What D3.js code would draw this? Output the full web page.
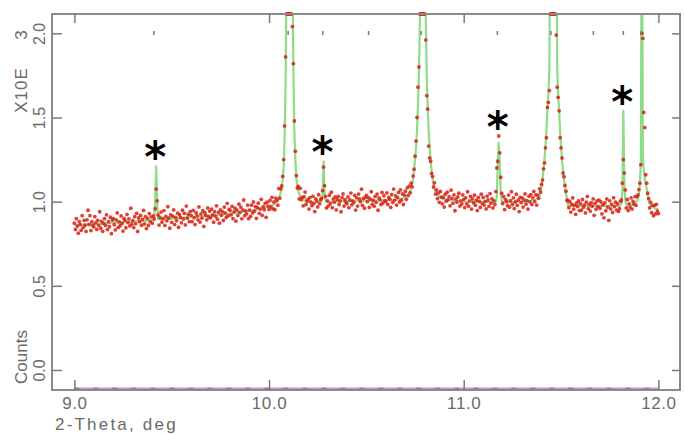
<!DOCTYPE html>
<html><head><meta charset="utf-8">
<script src="https://cdn.jsdelivr.net/npm/d3@7"></script>
<style>
html,body{margin:0;padding:0;background:#fff;}
svg{display:block;}
</style></head><body>
<svg id="chart" width="684" height="434"></svg>
<script>
// Powder scan: regular 2-theta grid, observed counts at each step
const scanStart = 9.0, scanStep = 0.005;
const observedCounts = [
  872, 835, 899, 855, 813, 881, 864, 830, 917, 846, 889, 860, 823, 892, 949, 865, 917, 828, 881, 859,
  850, 911, 874, 835, 889, 859, 940, 842, 882, 824, 871, 899, 859, 922, 834, 881, 851, 908, 810, 891,
  899, 863, 832, 891, 933, 847, 880, 857, 915, 871, 825, 901, 889, 845, 925, 876, 898, 856, 961, 866,
  887, 846, 911, 869, 931, 823, 903, 881, 918, 860, 895, 948, 868, 911, 840, 901, 859, 929, 881, 910,
  872, 916, 897, 958, 1075, 1005, 921, 861, 906, 938, 878, 899, 947, 859, 912, 886, 970, 903, 842, 921,
  877, 914, 951, 864, 907, 887, 932, 848, 923, 906, 874, 949, 897, 931, 862, 974, 902, 924, 881, 941,
  919, 881, 948, 904, 864, 934, 917, 892, 969, 879, 927, 902, 946, 853, 934, 918, 892, 963, 909, 944,
  904, 956, 921, 878, 940, 913, 975, 896, 936, 872, 951, 919, 940, 888, 968, 933, 906, 990, 916, 954,
  948, 921, 972, 899, 939, 961, 884, 950, 918, 985, 936, 968, 898, 951, 1010, 917, 945, 928, 980, 899,
  950, 912, 979, 933, 998, 943, 970, 901, 965, 991, 931, 956, 1014, 919, 970, 952, 990, 907, 997, 973,
  954, 1007, 969, 1026, 957, 998, 952, 1021, 1007, 979, 1078, 1021, 1076, 1093, 1150, 1250, 1450, 1860, 2300, 3700,
  5600, 6900, 5700, 3820, 2040, 1820, 1480, 1300, 1155, 1081, 1090, 1016, 1079, 1012, 1025, 975, 1028, 1057, 983, 1004,
  1014, 956, 1024, 998, 976, 1032, 988, 941, 1017, 1004, 969, 1041, 987, 1012, 1021, 1065, 1205, 1095, 1030, 963,
  1005, 975, 1038, 988, 1056, 964, 1016, 997, 1028, 951, 1013, 1031, 983, 1005, 940, 1024, 1046, 974, 1012, 996,
  987, 1028, 964, 1010, 1051, 981, 1005, 994, 1037, 950, 1023, 974, 1045, 1016, 1000, 1074, 978, 1019, 961, 1026,
  1037, 1000, 1024, 966, 1015, 1059, 984, 1007, 973, 1031, 996, 1045, 949, 1022, 1012, 983, 1055, 992, 1035, 1005,
  1001, 1052, 983, 1025, 1014, 966, 1041, 996, 1075, 1008, 1034, 980, 1025, 1055, 998, 1070, 1009, 1046, 983, 1039,
  1062, 1014, 1082, 1036, 1092, 1053, 1110, 1088, 1152, 1193, 1270, 1360, 1500, 1680, 1800, 2150, 2900, 4500, 5900, 4700,
  2960, 1960, 1630, 1550, 1330, 1260, 1240, 1168, 1149, 1087, 1112, 1045, 1070, 1018, 1052, 996, 1061, 1027, 987, 1025,
  968, 1044, 1003, 1056, 1011, 1030, 975, 1068, 1019, 990, 1040, 946, 1016, 997, 1028, 1050, 974, 1005, 986, 1040,
  1014, 965, 1023, 987, 1059, 973, 1005, 1031, 956, 1016, 993, 1038, 979, 1008, 947, 1025, 1002, 966, 1044, 988,
  1025, 980, 1002, 957, 1033, 1010, 972, 1048, 990, 1017, 963, 1005, 983, 1060, 1200, 1240, 1390, 1290, 1145, 1050,
  989, 1030, 953, 1014, 1001, 976, 1039, 967, 1006, 1059, 983, 1022, 959, 998, 1044, 978, 1009, 941, 1026, 994,
  1022, 968, 1010, 1046, 985, 1006, 956, 1032, 999, 1042, 983, 1023, 1061, 1000, 1040, 980, 1039, 1020, 1076, 1057,
  1102, 1128, 1195, 1230, 1320, 1380, 1560, 1590, 1660, 2900, 4400, 5900, 6800, 5800, 4300, 1990, 1680, 1620, 1540, 1380,
  1320, 1260, 1170, 1148, 1096, 1062, 1008, 1007, 964, 1000, 938, 983, 1022, 956, 979, 925, 993, 971, 1004, 947,
  988, 950, 1013, 967, 980, 933, 997, 1031, 959, 984, 944, 994, 973, 1016, 919, 990, 955, 1005, 970, 1009,
  961, 998, 927, 981, 904, 992, 946, 1016, 967, 889, 1005, 957, 984, 936, 1023, 971, 997, 950, 987, 942,
  958, 1003, 1010, 1110, 1250, 1170, 1070, 963, 1013, 947, 987, 966, 1022, 956, 1001, 985, 1030, 978, 1030, 1040,
  1072, 1110, 1220, 2000, 1970, 1530, 1440, 1160, 1110, 1050, 1018, 963, 997, 934, 978, 917, 978, 927, 984, 944,
  929
];

// Calculated profile (fit), listed at its own knots
const calcTheta = [
  9.00, 9.05, 9.10, 9.15, 9.20, 9.25, 9.30, 9.35, 9.40, 9.41, 9.415, 9.42, 9.425, 9.43, 9.45, 9.50, 9.55, 9.60, 9.65, 9.70,
  9.75, 9.80, 9.85, 9.90, 9.95, 10.00, 10.005, 10.01, 10.015, 10.02, 10.025, 10.03, 10.035, 10.04, 10.045, 10.05, 10.055, 10.06, 10.065, 10.07,
  10.075, 10.08, 10.085, 10.09, 10.095, 10.10, 10.105, 10.11, 10.115, 10.12, 10.125, 10.13, 10.135, 10.14, 10.145, 10.15, 10.155, 10.16, 10.165, 10.17,
  10.175, 10.18, 10.185, 10.19, 10.195, 10.20, 10.21, 10.22, 10.23, 10.24, 10.25, 10.26, 10.27, 10.275, 10.28, 10.285, 10.29, 10.295, 10.30, 10.35,
  10.40, 10.45, 10.50, 10.55, 10.60, 10.65, 10.66, 10.67, 10.68, 10.69, 10.70, 10.705, 10.71, 10.715, 10.72, 10.725, 10.73, 10.735, 10.74, 10.745,
  10.75, 10.755, 10.76, 10.765, 10.77, 10.775, 10.78, 10.785, 10.79, 10.795, 10.80, 10.805, 10.81, 10.815, 10.82, 10.825, 10.83, 10.835, 10.84, 10.845,
  10.85, 10.855, 10.86, 10.865, 10.87, 10.88, 10.89, 10.90, 10.92, 10.95, 11.00, 11.05, 11.10, 11.15, 11.165, 11.17, 11.175, 11.18, 11.185, 11.19,
  11.195, 11.20, 11.25, 11.30, 11.32, 11.34, 11.36, 11.37, 11.38, 11.385, 11.39, 11.395, 11.40, 11.405, 11.41, 11.415, 11.42, 11.425, 11.43, 11.435,
  11.44, 11.445, 11.45, 11.455, 11.46, 11.465, 11.47, 11.475, 11.48, 11.485, 11.49, 11.495, 11.50, 11.505, 11.51, 11.515, 11.52, 11.525, 11.53, 11.535,
  11.55, 11.60, 11.65, 11.70, 11.75, 11.80, 11.805, 11.81, 11.815, 11.82, 11.825, 11.83, 11.835, 11.84, 11.85, 11.86, 11.87, 11.88, 11.89, 11.895,
  11.90, 11.905, 11.91, 11.915, 11.92, 11.925, 11.93, 11.935, 11.94, 11.945, 11.95, 11.955, 11.96, 11.97, 11.98, 11.99, 12.00
];
const calcCounts = [
  860, 863, 867, 870, 874, 878, 882, 886, 890, 893, 1000, 1210, 1010, 896, 895, 899, 904, 908, 913, 918,
  923, 929, 938, 946, 957, 972, 974, 976, 979, 982, 986, 991, 995, 1002, 1009, 1020, 1035, 1055, 1084, 1129,
  1205, 1380, 1720, 2367, 3767, 5768, 6969, 5769, 3770, 2370, 1780, 1420, 1250, 1138, 1093, 1066, 1047, 1033, 1024, 1017,
  1012, 1009, 1005, 1003, 1000, 999, 997, 995, 995, 995, 996, 997, 1004, 1040, 1240, 1060, 1010, 1000, 999, 1000,
  1002, 1004, 1006, 1008, 1010, 1012, 1014, 1016, 1019, 1022, 1028, 1032, 1036, 1043, 1050, 1062, 1077, 1102, 1137, 1187,
  1252, 1322, 1422, 1572, 1762, 2082, 2902, 4602, 6002, 4602, 2901, 2081, 1761, 1571, 1421, 1321, 1251, 1185, 1135, 1100,
  1075, 1060, 1048, 1041, 1034, 1025, 1018, 1015, 1012, 1006, 1001, 999, 998, 998, 1000, 1030, 1240, 1350, 1220, 1060,
  1005, 998, 997, 1001, 1002, 1005, 1009, 1013, 1020, 1027, 1035, 1060, 1095, 1140, 1190, 1255, 1335, 1425, 1545, 1635,
  1795, 2995, 4495, 5995, 6995, 5990, 4490, 2990, 1790, 1630, 1540, 1420, 1330, 1250, 1185, 1135, 1090, 1050, 1020, 976,
  976, 976, 975, 975, 975, 975, 978, 990, 1070, 1540, 1100, 1010, 985, 978, 978, 980, 985, 992, 1003, 1018,
  1045, 1110, 1230, 3200, 1270, 1185, 1140, 1105, 1075, 1040, 1008, 990, 978, 970, 963, 958, 955
];

// Reflection positions (tick row under the top frame)
const reflectionTheta = [9.408, 10.098, 10.276, 10.511, 10.781, 11.173, 11.448, 11.666, 11.82, 11.911];
// Impurity peaks flagged with an asterisk: position and peak top
const impurityTheta = [9.42, 10.28, 11.18, 11.82];
const impurityTop = [1210, 1240, 1390, 1540];

const xTicks = [9, 10, 11, 12];
const yTicks = [0, 500, 1000, 1500, 2000];

const plot = {left: 52, right: 680, top: 14, bottom: 390};
const axisGrey = "#8a8a8a", textGrey = "#6a6a6a";
const font = "Liberation Sans, Arial, sans-serif";

const svg = d3.select("#chart");
const x = d3.scaleLinear().domain([8.885, 12.111]).range([plot.left, plot.right]);
const y = d3.scaleLinear().domain([-119, 2115]).range([plot.bottom, plot.top]);
const yClamp = y.copy().clamp(true);

svg.append("defs").append("clipPath").attr("id", "plotClip")
  .append("rect").attr("x", plot.left).attr("y", plot.top)
  .attr("width", plot.right - plot.left).attr("height", plot.bottom - plot.top);

// difference trace along the floor of the plot
const scanEnd = scanStart + (observedCounts.length - 1) * scanStep;
const floorY = y(y.domain()[0]) - 1.5;
svg.append("line").attr("x1", x(scanStart)).attr("x2", x(scanEnd))
  .attr("y1", floorY).attr("y2", floorY)
  .attr("stroke", "#d98ad9").attr("stroke-width", 2);
svg.append("line").attr("x1", x(scanStart)).attr("x2", x(scanEnd))
  .attr("y1", floorY).attr("y2", floorY)
  .attr("stroke", "#8a7a8a").attr("stroke-width", 1.5).attr("stroke-dasharray", "5,14");

// calculated profile
const calcData = calcTheta.map((t, i) => [t, calcCounts[i]]);
svg.append("path").datum(calcData)
  .attr("clip-path", "url(#plotClip)")
  .attr("fill", "none").attr("stroke", "#8edb8a").attr("stroke-width", 2.2)
  .attr("stroke-linejoin", "round")
  .attr("d", d3.line().x(d => x(d[0])).y(d => y(d[1])));

// observed points
const obsData = observedCounts.map((c, i) => [scanStart + i * scanStep, c]);
svg.append("g").selectAll("circle").data(obsData).join("circle")
  .attr("cx", d => x(d[0])).attr("cy", d => yClamp(d[1]))
  .attr("r", 1.9).attr("fill", "#dc2418").attr("fill-opacity", 0.88);

// frame
svg.append("rect").attr("x", plot.left).attr("y", plot.top)
  .attr("width", plot.right - plot.left).attr("height", plot.bottom - plot.top)
  .attr("fill", "none").attr("stroke", axisGrey).attr("stroke-width", 2);

function styleAxis(g) {
  g.select(".domain").remove();
  g.selectAll(".tick line").attr("stroke", "#7a7a7a").attr("stroke-width", 1.5);
  g.selectAll("text").attr("fill", textGrey).attr("font-family", font);
}

const xAxisB = svg.append("g").attr("transform", `translate(0,${plot.bottom})`)
  .call(d3.axisBottom(x).tickValues(xTicks).tickSize(-10).tickPadding(7).tickFormat(d3.format(".1f")))
  .call(styleAxis);
xAxisB.selectAll("text").attr("font-size", 17).attr("letter-spacing", 0.6);

svg.append("g").attr("transform", `translate(0,${plot.top})`)
  .call(d3.axisTop(x).tickValues(xTicks).tickSize(-9).tickFormat(""))
  .call(styleAxis);

const yAxisL = svg.append("g").attr("transform", `translate(${plot.left},0)`)
  .call(d3.axisLeft(y).tickValues(yTicks).tickSize(-10).tickFormat(d => (d / 1000).toFixed(1)))
  .call(styleAxis);
yAxisL.selectAll("text")
  .attr("x", null).attr("dy", null)
  .attr("text-anchor", "middle")
  .attr("transform", "translate(-7,0) rotate(-90)")
  .attr("font-size", 16);

svg.append("g").attr("transform", `translate(${plot.right},0)`)
  .call(d3.axisRight(y).tickValues(yTicks).tickSize(-8).tickFormat(""))
  .call(styleAxis);

// reflection tick row
svg.append("g").selectAll("line").data(reflectionTheta).join("line")
  .attr("x1", d => x(d)).attr("x2", d => x(d))
  .attr("y1", plot.top + 17).attr("y2", plot.top + 21)
  .attr("stroke", "#7a7a7a").attr("stroke-width", 1.5);

// axis titles
svg.append("text").attr("x", 55).attr("y", 430)
  .attr("font-family", font).attr("font-size", 17).attr("letter-spacing", 2.2)
  .attr("fill", textGrey).text("2-Theta, deg");
svg.append("text").attr("transform", "translate(27,357) rotate(-90)").attr("text-anchor", "middle")
  .attr("font-family", font).attr("font-size", 17).attr("fill", textGrey).text("Counts");
svg.append("text").attr("transform", "translate(27,90) rotate(-90)").attr("text-anchor", "middle")
  .attr("font-family", font).attr("font-size", 17).attr("letter-spacing", 1).attr("fill", textGrey).text("X10E");
svg.append("text").attr("transform", "translate(27,35) rotate(-90)").attr("text-anchor", "middle")
  .attr("font-family", font).attr("font-size", 17).attr("fill", textGrey).text("3");

// asterisks over the impurity peaks
svg.append("g").selectAll("text").data(impurityTheta).join("text")
  .attr("x", d => x(d) - 1)
  .attr("y", (d, i) => y(impurityTop[i]) + 6)
  .attr("text-anchor", "middle")
  .attr("font-family", "DejaVu Sans, sans-serif").attr("font-size", 42).attr("font-weight", "bold")
  .attr("fill", "#000").text("*");
</script>
</body></html>
